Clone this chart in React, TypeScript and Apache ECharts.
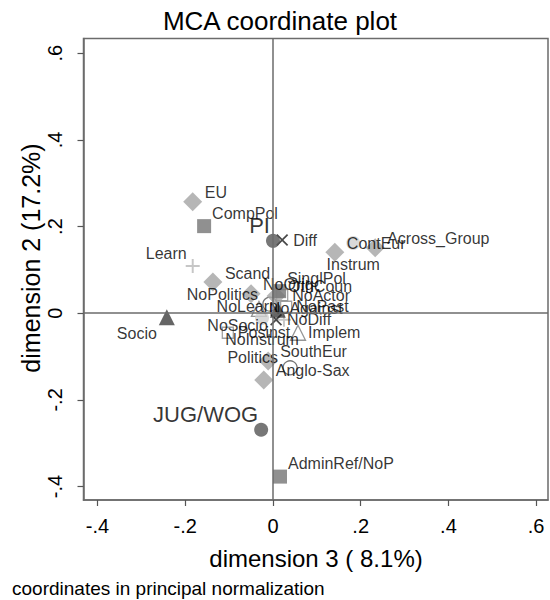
import React, { useEffect, useRef } from 'react';
import * as echarts from 'echarts';

// ---- texts ----
const chartTitle = 'MCA coordinate plot';
const xTitle = 'dimension 3 ( 8.1%)';
const yTitle = 'dimension 2 (17.2%)';
const noteText = 'coordinates in principal normalization';
const xTicks = [-0.4, -0.2, 0, 0.2, 0.4, 0.6];
const yTicks = [-0.4, -0.2, 0, 0.2, 0.4, 0.6];

// ---- categories per variable: names, dimension 3 (x), dimension 2 (y) ----
const otherNames = ['Posinst', 'NoActor', 'NoPast'];
const otherDim3 = [-0.103, 0.021, 0.030];
const otherDim2 = [-0.045, 0.042, 0.015];

const implemNames = ['Implem', 'NoAgainst'];
const implemDim3 = [0.057, -0.032];
const implemDim2 = [-0.045, 0.010];

const politicsNames = ['Politics', 'NoPolitics'];
const politicsDim3 = [0.039, -0.007];
const politicsDim2 = [-0.126, 0.021];

const regionNames = ['EU', 'Scand', 'ContEur', 'Across_Group', 'Anglo-Sax', 'SouthEur', 'OthCoun', 'NoOrig'];
const regionDim3 = [-0.183, -0.137, 0.141, 0.233, -0.021, -0.011, 0.007, -0.050];
const regionDim2 = [0.257, 0.072, 0.141, 0.151, -0.154, -0.110, 0.040, 0.045];

const instrumNames = ['Instrum', 'NoInstrum'];
const instrumDim3 = [0.183, -0.025];
const instrumDim2 = [0.162, -0.011];

const learnNames = ['Learn', 'NoLearn'];
const learnDim3 = [-0.183, 0.025];
const learnDim2 = [0.109, -0.015];

const compNames = ['CompPol', 'SinglPol', 'AdminRef/NoP'];
const compDim3 = [-0.157, 0.014, 0.016];
const compDim2 = [0.201, 0.051, -0.377];

const socioNames = ['Socio', 'NoSocio'];
const socioDim3 = [-0.242, 0.011];
const socioDim2 = [-0.009, 0.008];

const diffNames = ['Diff', 'NoDiff'];
const diffDim3 = [0.021, 0.007];
const diffDim2 = [0.169, -0.015];

const typeNames = ['PI', 'JUG/WOG'];
const typeDim3 = [0.0, -0.027];
const typeDim2 = [0.167, -0.269];

const variables = [
  { key: 'other', names: otherNames, x: otherDim3, y: otherDim2 },
  { key: 'implem', names: implemNames, x: implemDim3, y: implemDim2 },
  { key: 'politics', names: politicsNames, x: politicsDim3, y: politicsDim2 },
  { key: 'region', names: regionNames, x: regionDim3, y: regionDim2 },
  { key: 'instrum', names: instrumNames, x: instrumDim3, y: instrumDim2 },
  { key: 'learn', names: learnNames, x: learnDim3, y: learnDim2 },
  { key: 'comp', names: compNames, x: compDim3, y: compDim2 },
  { key: 'socio', names: socioNames, x: socioDim3, y: socioDim2 },
  { key: 'diff', names: diffNames, x: diffDim3, y: diffDim2 },
  { key: 'type', names: typeNames, x: typeDim3, y: typeDim2 },
];

// ---- styles ----
const FONT = '"Liberation Sans", Arial, Helvetica, sans-serif';
const TEXT = '#000';
const X_PATH = 'path://M1,0L5,4L9,0L10,1L6,5L10,9L9,10L5,6L1,10L0,9L4,5L0,1Z';
const PLUS_PATH = 'path://M4.3,0H5.7V4.3H10V5.7H5.7V10H4.3V5.7H0V4.3H4.3Z';
const HOLLOW = 'rgba(0,0,0,0)';

const styles: Record<string, any> = {
  other: { symbol: 'rect', size: 11, item: { color: HOLLOW, borderColor: '#8a8a8a', borderWidth: 1.3 }, align: 'left', offset: [10, 0], fs: 16 },
  implem: { symbol: 'triangle', size: 15, item: { color: HOLLOW, borderColor: '#7a7a7a', borderWidth: 1.3 }, align: 'left', offset: [10, 0], fs: 16 },
  politics: { symbol: 'circle', size: 14, item: { color: HOLLOW, borderColor: '#555555', borderWidth: 1.3 }, align: 'right', offset: [-12, -10], fs: 16 },
  region: { symbol: 'diamond', size: 19, item: { color: '#a4a4a4' }, align: 'left', offset: [12, -9], fs: 16 },
  instrum: { symbol: 'circle', size: 14, item: { color: '#cfcfcf' }, align: 'center', offset: [0, 21], fs: 16 },
  learn: { symbol: PLUS_PATH, size: 14, item: { color: '#b8b8b8' }, align: 'right', offset: [-6, -13], fs: 16 },
  comp: { symbol: 'rect', size: 14, item: { color: '#747474' }, align: 'left', offset: [8, -13], fs: 16 },
  socio: { symbol: 'triangle', size: 16, item: { color: '#3e3e3e' }, align: 'right', offset: [-10, 16], fs: 16 },
  diff: { symbol: X_PATH, size: 12, item: { color: '#1a1a1a' }, align: 'left', offset: [11, 0], fs: 16 },
  type: { symbol: 'circle', size: 14, item: { color: '#555555' }, align: 'right', offset: [-3, -15], fs: 22 },
};

function stataFmt(v: number): string {
  const r = Math.round(v * 10) / 10;
  if (r === 0) return '0';
  return (r < 0 ? '-' : '') + String(Math.abs(r)).replace(/^0/, '');
}

export default function App() {
  const ref = useRef<HTMLDivElement>(null);

  useEffect(() => {
    if (!ref.current) return;
    const chart = echarts.init(ref.current, null, { renderer: 'svg' });

    const scatterSeries = variables.map((v) => {
      const s = styles[v.key];
      return {
        type: 'scatter',
        name: v.key,
        z: 3,
        symbol: s.symbol,
        symbolSize: s.size,
        itemStyle: s.item,
        label: {
          show: true,
          position: 'inside',
          align: s.align,
          verticalAlign: 'middle',
          offset: s.offset,
          color: TEXT,
          fontSize: s.fs,
          fontFamily: FONT,
          formatter: (p: any) => p.name,
        },
        data: v.names.map((n, i) => ({ name: n, value: [v.x[i], v.y[i]] })),
      };
    });

    const option: any = {
      animation: false,
      backgroundColor: '#fff',
      grid: {
        left: 83.5,
        top: 38.5,
        width: 464.5,
        height: 461.5,
        show: true,
        borderColor: '#6b6b6b',
        borderWidth: 1.5,
        backgroundColor: '#fff',
      },
      xAxis: {
        type: 'value',
        min: -0.432,
        max: 0.627,
        axisLine: { show: true, onZero: false, lineStyle: { color: '#6b6b6b', width: 1.5 } },
        axisTick: { show: true, customValues: xTicks, length: 6, lineStyle: { color: '#555', width: 1.2 } },
        axisLabel: { customValues: xTicks, formatter: stataFmt, fontSize: 20, color: TEXT, fontFamily: FONT, margin: 16 },
        splitLine: { show: false },
      },
      yAxis: {
        type: 'value',
        min: -0.431,
        max: 0.634,
        axisLine: { show: true, onZero: false, lineStyle: { color: '#6b6b6b', width: 1.5 } },
        axisTick: { show: true, customValues: yTicks, length: 6, lineStyle: { color: '#555', width: 1.2 } },
        axisLabel: { customValues: yTicks, formatter: stataFmt, fontSize: 20, color: TEXT, fontFamily: FONT, rotate: 90, margin: 19 },
        splitLine: { show: false },
      },
      graphic: [
        { type: 'text', x: 280, y: 21, style: { text: chartTitle, font: `26px ${FONT}`, fill: TEXT, textAlign: 'center', textVerticalAlign: 'middle' } },
        { type: 'text', x: 316, y: 558, style: { text: xTitle, font: `24px ${FONT}`, fill: TEXT, textAlign: 'center', textVerticalAlign: 'middle' } },
        { type: 'text', x: 31, y: 258, rotation: Math.PI / 2, style: { text: yTitle, font: `25px ${FONT}`, fill: TEXT, textAlign: 'center', textVerticalAlign: 'middle' } },
        { type: 'text', x: 12, y: 588, style: { text: noteText, font: `19px ${FONT}`, fill: TEXT, textAlign: 'left', textVerticalAlign: 'middle' } },
      ],
      series: [
        {
          type: 'scatter',
          name: 'axes',
          z: 1,
          data: [],
          markLine: {
            silent: true,
            symbol: ['none', 'none'],
            label: { show: false },
            lineStyle: { color: '#6b6b6b', width: 1.5, type: 'solid' },
            data: [{ xAxis: 0 }, { yAxis: 0 }],
          },
        },
        ...scatterSeries,
      ],
    };

    chart.setOption(option);
    return () => chart.dispose();
  }, []);

  return <div ref={ref} style={{ position: 'fixed', left: 0, top: 0, width: 550, height: 600 }} />;
}
